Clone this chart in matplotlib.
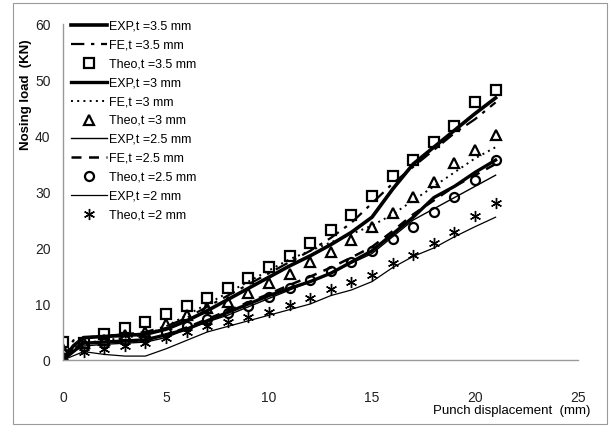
import matplotlib
matplotlib.use("Agg")
import matplotlib.pyplot as plt
from matplotlib.patches import Rectangle

plt.rcParams["font.family"] = ["Liberation Sans", "DejaVu Sans"]

# ---------------------------------------------------------------------------
# data (punch displacement mm -> nosing load kN)
# ---------------------------------------------------------------------------
x_disp = [0, 1, 2, 3, 4, 5, 6, 7, 8, 9, 10, 11, 12, 13, 14, 15, 16, 17, 18, 19, 20, 21]
x_line = [0, 0.5, 1, 2, 3, 4, 5, 6, 7, 8, 9, 10, 11, 12, 13, 14, 15, 16, 17, 18, 19, 20, 21]

exp_35 = [0, 2.5, 4.0, 4.2, 4.4, 4.6, 5.5, 7.0, 8.8, 10.8, 12.8, 14.8, 16.8, 18.6, 20.6, 22.8,
          25.5, 30.5, 35.0, 38.0, 41.0, 44.0, 46.8]
fe_35 = [0, 3.5, 4.0, 4.3, 4.6, 5.0, 6.0, 7.5, 9.5, 11.5, 13.5, 15.5, 17.5, 19.5, 21.8, 24.5,
         28.0, 31.5, 34.5, 37.5, 40.5, 43.0, 46.0]
theo_35 = [3.2, 3.0, 4.6, 5.7, 6.8, 8.2, 9.6, 11.0, 12.9, 14.6, 16.6, 18.6, 20.9, 23.2, 25.9,
           29.3, 32.9, 35.7, 38.9, 41.8, 46.0, 48.2]

exp_3 = [0, 1.5, 3.0, 3.2, 3.4, 3.6, 4.5, 5.5, 7.0, 8.5, 10.0, 11.5, 12.8, 14.0, 15.5, 17.5,
         19.5, 22.5, 25.5, 29.0, 31.0, 33.5, 35.7]
fe_3 = [0, 2.0, 3.0, 3.5, 4.0, 4.5, 6.0, 8.0, 10.0, 12.0, 14.0, 16.0, 18.0, 19.5, 21.0, 22.5,
        24.0, 26.0, 28.5, 31.0, 33.5, 36.0, 38.0]
theo_3 = [2.0, 3.0, 3.5, 4.5, 5.0, 6.5, 8.0, 9.3, 10.4, 12.0, 13.8, 15.4, 17.5, 19.3, 21.4,
          23.7, 26.2, 29.1, 31.8, 35.2, 37.5, 40.2]

exp_25 = [0, 1.5, 2.5, 2.8, 3.0, 3.2, 4.0, 5.5, 6.8, 8.0, 9.5, 11.0, 12.5, 14.0, 15.6, 17.3,
          19.0, 22.0, 25.0, 27.0, 29.0, 31.0, 33.0]
fe_25 = [0, 2.0, 3.0, 3.2, 3.4, 3.6, 4.5, 5.8, 7.3, 8.8, 10.3, 11.8, 13.4, 14.9, 16.5, 18.3,
         20.2, 23.0, 26.0, 28.5, 31.0, 33.0, 35.0]
theo_25 = [1.0, 2.5, 3.0, 3.5, 4.0, 5.0, 6.0, 7.3, 8.4, 9.6, 11.3, 12.8, 14.3, 15.9, 17.5,
           19.5, 21.6, 23.8, 26.4, 29.1, 32.1, 35.7]

exp_2 = [0, 1.5, 1.0, 0.7, 0.7, 2.0, 3.5, 5.0, 6.0, 7.0, 8.0, 9.0, 10.0, 11.5, 12.5, 14.0,
         16.5, 18.5, 20.0, 22.0, 23.8, 25.5]
theo_2 = [0.5, 1.5, 2.0, 2.5, 3.0, 4.0, 5.0, 6.0, 6.8, 7.7, 8.6, 9.8, 11.0, 12.7, 14.0, 15.2,
          17.3, 18.8, 20.9, 22.9, 25.7, 28.0]

x_ticks = [0, 5, 10, 15, 20, 25]
y_ticks = [0, 10, 20, 30, 40, 50, 60]

# ---------------------------------------------------------------------------
fig = plt.figure(figsize=(6.11, 4.32), dpi=100)
fig.patches.append(Rectangle((13 / 611, 8 / 432), 594 / 611, 421 / 432,
                             transform=fig.transFigure, fill=False,
                             edgecolor="#9a9a9a", linewidth=0.8))
ax = fig.add_axes([63 / 611, 72 / 432, 515 / 611, 336 / 432])

k = "black"
mk = dict(linestyle="none", markerfacecolor="none", markeredgecolor=k, markeredgewidth=1.6)

ax.plot(x_line, exp_35, color=k, lw=2.6, label="EXP,t =3.5 mm")
ax.plot(x_line, fe_35, color=k, lw=1.6, linestyle=(0, (6, 3, 1.5, 3)), label="FE,t =3.5 mm")
ax.plot(x_disp, theo_35, marker="s", markersize=7, label="Theo,t =3.5 mm", **mk)
ax.plot(x_line, exp_3, color=k, lw=2.4, label="EXP,t =3 mm")
ax.plot(x_line, fe_3, color=k, lw=1.4, linestyle=(0, (1, 2.2)), label="FE,t =3 mm")
ax.plot(x_disp, theo_3, marker="^", markersize=6.5, label="Theo,t =3 mm", **mk)
ax.plot(x_line, exp_25, color=k, lw=1.0, label="EXP,t =2.5 mm")
ax.plot(x_line, fe_25, color=k, lw=1.8, linestyle=(0, (4, 3)), label="FE,t =2.5 mm")
ax.plot(x_disp, theo_25, marker="o", markersize=6.5, label="Theo,t =2.5 mm", **mk)
ax.plot(x_disp, exp_2, color=k, lw=0.9, label="EXP,t =2 mm")
ax.plot(x_disp, theo_2, marker=(6, 2, 0), markersize=8, linestyle="none",
        markeredgecolor=k, markeredgewidth=1.0, label="Theo,t =2 mm")

ax.set_xlim(0, 25)
ax.set_ylim(0, 60)
ax.set_xticks(x_ticks)
ax.set_yticks(y_ticks)
for s in ("top", "right"):
    ax.spines[s].set_visible(False)
for s in ("left", "bottom"):
    ax.spines[s].set_color("#9a9a9a")
    ax.spines[s].set_linewidth(1.0)
ax.tick_params(axis="both", length=0, labelsize=10, colors="#222222")
ax.tick_params(axis="x", pad=22)
ax.tick_params(axis="y", pad=9)

leg = ax.legend(loc="upper left", bbox_to_anchor=(0.005, 1.025), frameon=False,
                fontsize=9, handlelength=2.9, handletextpad=0.15, labelspacing=0.55,
                borderaxespad=0.0)

fig.text(26 / 611, 1 - 95 / 432, "Nosing load  (KN)", rotation=90, ha="center", va="center",
         fontsize=9.5, fontweight="bold")
fig.text(512 / 611, 1 - 411 / 432, "Punch displacement  (mm)", ha="center", va="center",
         fontsize=9.5)

fig.savefig("out.png", dpi=100)
